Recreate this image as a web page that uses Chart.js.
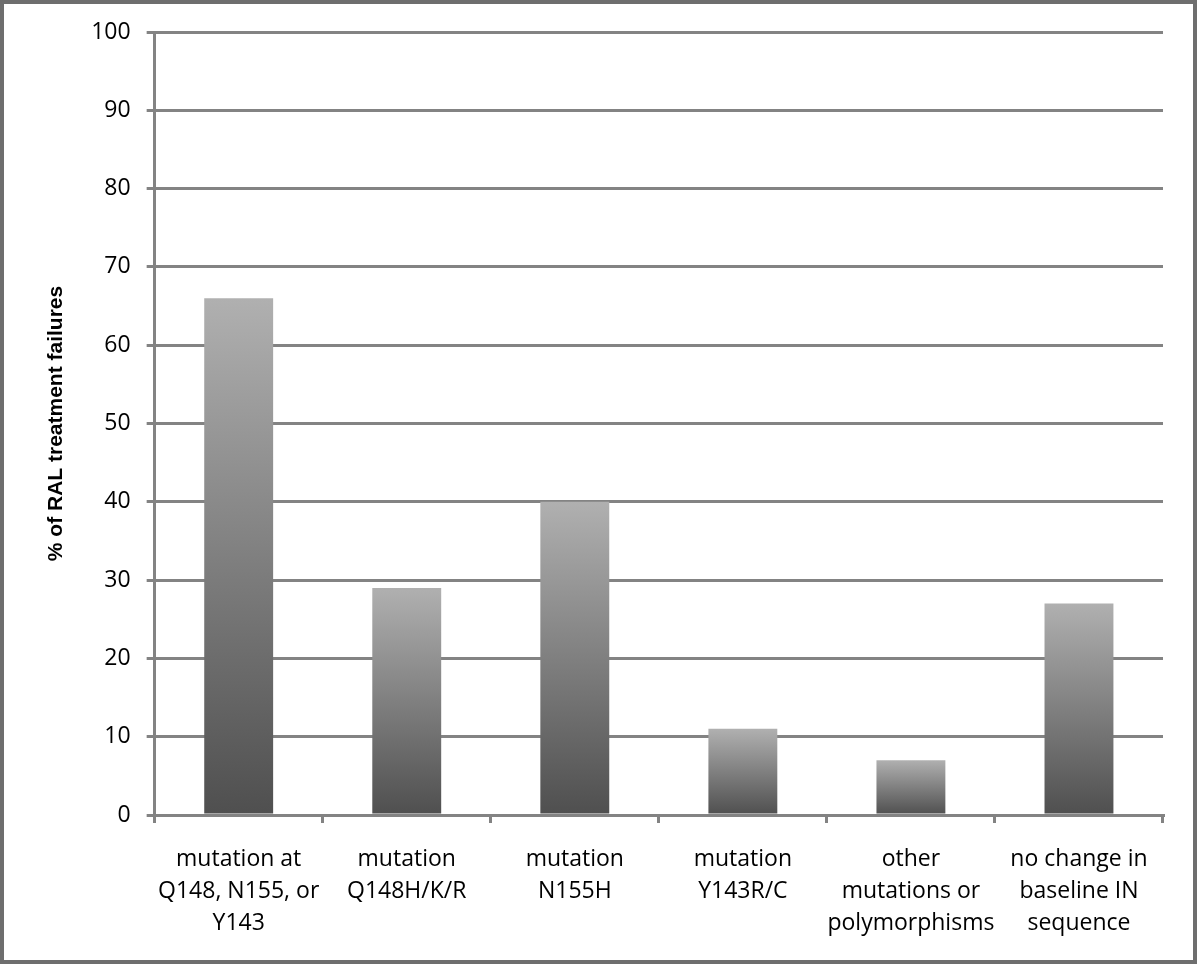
<!DOCTYPE html>
<html>
<head>
<meta charset="utf-8">
<style>
  html, body { margin: 0; padding: 0; background: #fff; }
  #wrap { width: 1200px; height: 967px; position: relative; }
</style>
<script src="https://cdn.jsdelivr.net/npm/chart.js@4/dist/chart.umd.min.js"></script>
</head>
<body>
<div id="wrap"><canvas id="chart" width="1200" height="967"></canvas></div>
<script>
"use strict";

const categories = [
  ["mutation at", "Q148, N155, or", "Y143"],
  ["mutation", "Q148H/K/R"],
  ["mutation", "N155H"],
  ["mutation", "Y143R/C"],
  ["other", "mutations or", "polymorphisms"],
  ["no change in", "baseline IN", "sequence"],
];
const failurePct = [66, 29, 40, 11, 7, 27];
const yMin = 0;
const yMax = 100;
const yStep = 10;
const yTitle = "% of RAL treatment failures";

const GRID = "#838383";
const TICK_FONT = { family: "'Open Sans'", size: 23, weight: 500, lineHeight: 32 / 23 };

function barGradient(c) {
  const chart = c.chart;
  const y = chart.scales && chart.scales.y;
  if (!chart.chartArea || !y || c.type !== "data") return "#808080";
  const top = y.getPixelForValue(c.raw);
  const base = y.getPixelForValue(0);
  const g = chart.ctx.createLinearGradient(0, top, 0, base);
  g.addColorStop(0, "#b0b0b0");
  g.addColorStop(1, "#4f4f4f");
  return g;
}

const frame = {
  id: "frame",
  beforeDraw(chart) {
    const ctx = chart.ctx;
    ctx.save();
    ctx.fillStyle = "#fff";
    ctx.fillRect(0, 0, chart.width, chart.height);
    ctx.restore();
  },
  afterDraw(chart) {
    const ctx = chart.ctx;
    ctx.save();
    ctx.strokeStyle = "#6e6e6e";
    ctx.lineWidth = 4;
    ctx.strokeRect(2, 2, 1193, 960);
    ctx.restore();
  },
};

new Chart(document.getElementById("chart"), {
  type: "bar",
  data: {
    labels: categories,
    datasets: [{
      data: failurePct,
      backgroundColor: barGradient,
      borderWidth: 0,
      categoryPercentage: 1,
      barPercentage: 0.41,
    }],
  },
  options: {
    responsive: false,
    animation: false,
    layout: { padding: { top: 32, right: 37, bottom: 8, left: 44 } },
    plugins: { legend: { display: false }, tooltip: { enabled: false } },
    scales: {
      x: {
        offset: true,
        grid: {
          offset: true,
          drawOnChartArea: false,
          drawTicks: true,
          tickLength: 8,
          color: GRID,
          lineWidth: 3,
        },
        border: { display: true, color: GRID, width: 3 },
        ticks: {
          autoSkip: false,
          maxRotation: 0,
          padding: 20,
          color: "#000",
          font: TICK_FONT,
        },
      },
      y: {
        min: yMin,
        max: yMax,
        ticks: {
          stepSize: yStep,
          padding: 16,
          color: "#000",
          font: { family: "'Open Sans'", size: 23, weight: 500 },
        },
        grid: { color: GRID, lineWidth: 3, tickLength: 8 },
        border: { display: true, color: GRID, width: 3 },
        title: {
          display: true,
          text: yTitle,
          color: "#000",
          padding: { top: 0, bottom: 6 },
          font: { family: "'Liberation Sans'", size: 21, weight: "bold" },
        },
      },
    },
  },
  plugins: [frame],
});
</script>
</body>
</html>
